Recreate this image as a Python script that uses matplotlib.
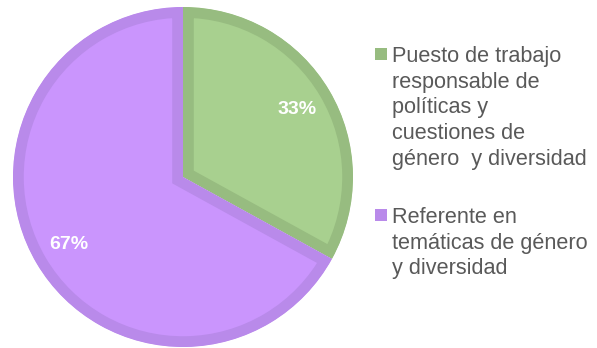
import matplotlib.pyplot as plt
from matplotlib.patches import Wedge, Rectangle

plt.rcParams['font.family'] = ['Liberation Sans', 'DejaVu Sans']

labels = ['Puesto de trabajo\nresponsable de\npolíticas y\ncuestiones de\ngénero  y diversidad',
          'Referente en\ntemáticas de género\ny diversidad']
values = [33, 67]
fills = ['#A8D08F', '#CA95FD']
borders = ['#97BC80', '#B98AEA']

W, H = 597, 348
fig = plt.figure(figsize=(W / 100, H / 100), dpi=100)
ax = fig.add_axes([13 / W, 1 / H, 340 / W, 340 / H])

wedges, texts, autotexts = ax.pie(values, colors=fills, startangle=90, counterclock=False,
                                  autopct='%1.0f%%', pctdistance=0.78, radius=1,
                                  textprops=dict(color='white', fontsize=14, fontweight='bold'))
# inner border: thick edge clipped to a copy of the wedge
for w, bc in zip(wedges, borders):
    clip = Wedge(w.center, w.r, w.theta1, w.theta2, transform=ax.transData)
    w.set_edgecolor(bc)
    w.set_linewidth(15.5)
    w.set_clip_on(True)
    w.set_clip_path(clip)
ax.set_xlim(-1, 1)
ax.set_ylim(-1, 1)
ax.set_aspect('equal')
ax.axis('off')

# legend drawn by hand: square + wrapped lines
first_baseline = [62, 223]
line_step = 25.7
for lab, bc, y0 in zip(labels, borders, first_baseline):
    fig.patches.append(Rectangle((375 / W, 1 - (y0 - 2) / H), 12 / W, 12 / H,
                                 transform=fig.transFigure, facecolor=bc, edgecolor='none'))
    for i, line in enumerate(lab.split('\n')):
        fig.text(392 / W, 1 - (y0 + i * line_step) / H, line, fontsize=15.6,
                 color='#595959', va='baseline', ha='left')

fig.savefig('out.png', dpi=100)
